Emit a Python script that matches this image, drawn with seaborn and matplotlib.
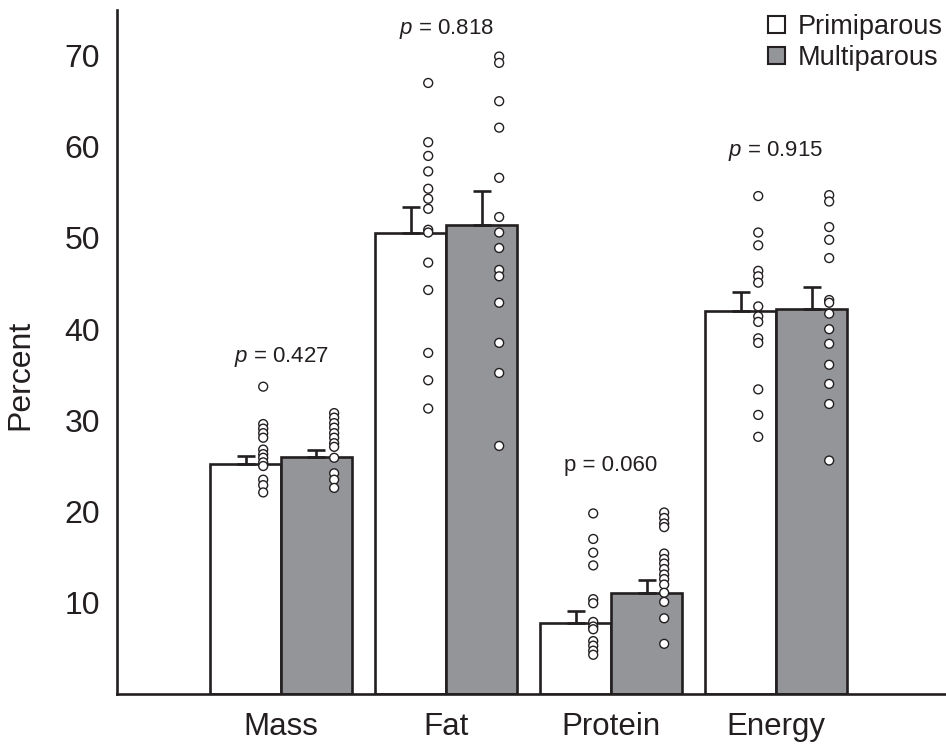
import pandas as pd
import seaborn as sns
import matplotlib.pyplot as plt
import numpy as np

categories = ['Mass', 'Fat', 'Protein', 'Energy']
groups = ['Primiparous', 'Multiparous']

prim_mean = [25.2, 50.6, 7.8, 42.0]
multi_mean = [26.0, 51.4, 11.1, 42.2]
prim_se = [0.9, 2.8, 1.35, 2.1]
multi_se = [0.8, 3.7, 1.35, 2.4]

# individual values
prim_mass = [33.7, 29.6, 29.1, 28.6, 28.1, 26.8, 26.3, 25.9, 25.4, 25.0, 23.5, 22.9, 22.1]
multi_mass = [30.8, 30.3, 29.7, 29.2, 28.6, 28.1, 27.5, 27.1, 25.9, 24.2, 23.5, 22.6]
prim_fat = [67.0, 60.5, 59.0, 57.3, 55.4, 54.3, 53.2, 50.9, 50.6, 47.3, 44.3, 37.4, 34.4, 31.3]
multi_fat = [69.9, 69.2, 65.0, 62.1, 56.6, 52.3, 50.6, 48.9, 46.5, 45.8, 42.9, 38.5, 35.2, 27.2]
prim_protein = [19.8, 17.0, 15.5, 14.1, 10.4, 9.95, 7.9, 7.4, 7.1, 5.8, 5.3, 4.75, 4.3]
multi_protein = [19.9, 19.3, 18.7, 18.3, 15.4, 14.8, 14.3, 13.7, 13.1, 12.6, 12.0, 11.1, 10.1, 8.3, 5.5]
prim_energy = [54.6, 50.6, 49.2, 46.4, 45.8, 45.1, 42.5, 41.4, 40.8, 39.0, 38.5, 33.4, 30.6, 28.2]
multi_energy = [54.7, 54.0, 51.2, 49.8, 47.8, 43.2, 42.9, 41.7, 40.0, 38.4, 36.1, 34.0, 31.8, 25.6]

p_labels = ['$p$ = 0.427', '$p$ = 0.818', 'p = 0.060', '$p$ = 0.915']
p_y = [37.0, 72.9, 25.0, 59.5]

sns.set_style('white')
plt.rcParams['font.family'] = ['Liberation Sans', 'DejaVu Sans']
plt.rcParams['mathtext.fontset'] = 'custom'
plt.rcParams['mathtext.it'] = 'Liberation Sans:italic'
plt.rcParams['mathtext.rm'] = 'Liberation Sans'
ink = '#231f20'

bars = pd.DataFrame({
    'Component': categories * 2,
    'Group': [g for g in groups for _ in categories],
    'Percent': prim_mean + multi_mean,
})

dots = []
for comp, pv, mv in zip(categories,
                        [prim_mass, prim_fat, prim_protein, prim_energy],
                        [multi_mass, multi_fat, multi_protein, multi_energy]):
    for v in pv:
        dots.append((comp, 'Primiparous', v))
    for v in mv:
        dots.append((comp, 'Multiparous', v))
dots = pd.DataFrame(dots, columns=['Component', 'Group', 'Percent'])

fig = plt.figure(figsize=(9.46, 7.48), dpi=100)
ax = fig.add_axes([117 / 946, 54 / 748, 829 / 946, 684 / 748])

bar_width = 0.86
sns.barplot(data=bars, x='Component', y='Percent', hue='Group', hue_order=groups,
            order=categories, palette=['white', '#939598'], saturation=1,
            width=bar_width, edgecolor=ink, linewidth=1.9, errorbar=None, ax=ax)
bar_conts = list(ax.containers)

# upper SE bars only
for cont, se in zip(bar_conts, [prim_se, multi_se]):
    xs = [b.get_x() + b.get_width() / 2 for b in cont]
    ys = [b.get_height() for b in cont]
    ax.errorbar(xs, ys, yerr=[np.zeros(len(se)), se], fmt='none', ecolor=ink,
                elinewidth=1.9, capsize=6.2, capthick=1.9, zorder=3)

sns.stripplot(data=dots, x='Component', y='Percent', hue='Group', hue_order=groups,
              order=categories, dodge=True, jitter=False, palette=['white', 'white'],
              edgecolor=ink, linewidth=1.0, size=6.4, legend=False, zorder=4, ax=ax)

# move dots to the right half of each bar
for coll in ax.collections:
    offs = coll.get_offsets()
    if len(offs) == 0 or not hasattr(coll, 'get_sizes') or coll.get_sizes().size == 0:
        continue
    i = np.round(offs[:, 0])
    side = np.sign(offs[:, 0] - i)
    offs[:, 0] = i + side * bar_width / 4 + 0.107
    coll.set_offsets(offs)

for i, (lab, y) in enumerate(zip(p_labels, p_y)):
    ax.text(i, y, lab, ha='center', va='center', fontsize=16, color=ink)

ax.set_xlim(-0.994, 4.03)
ax.set_ylim(0, 75)
ax.set_yticks([10, 20, 30, 40, 50, 60, 70])
ax.set_xlabel('')
ax.set_ylabel('Percent', fontsize=23, color=ink)
ax.yaxis.set_label_coords(-0.099, 0.466)
ax.tick_params(axis='y', direction='in', length=7, width=1.5, labelsize=23,
               pad=12, colors=ink)
ax.tick_params(axis='x', length=0, labelsize=22.5, pad=13, colors=ink)
sns.despine(ax=ax)
for s in ['left', 'bottom']:
    ax.spines[s].set_linewidth(1.9)
    ax.spines[s].set_color(ink)

handles = [cont.patches[0] for cont in bar_conts]
leg = ax.legend(handles, groups, loc='upper right', bbox_to_anchor=(1.026, 1.03),
                frameon=False, fontsize=19.5, handlelength=0.6, handleheight=0.6,
                handletextpad=0.5, labelspacing=0.2)
for t in leg.get_texts():
    t.set_color(ink)
for h in leg.legend_handles:
    h.set_linewidth(1.5)

fig.savefig('out.png', dpi=100)
